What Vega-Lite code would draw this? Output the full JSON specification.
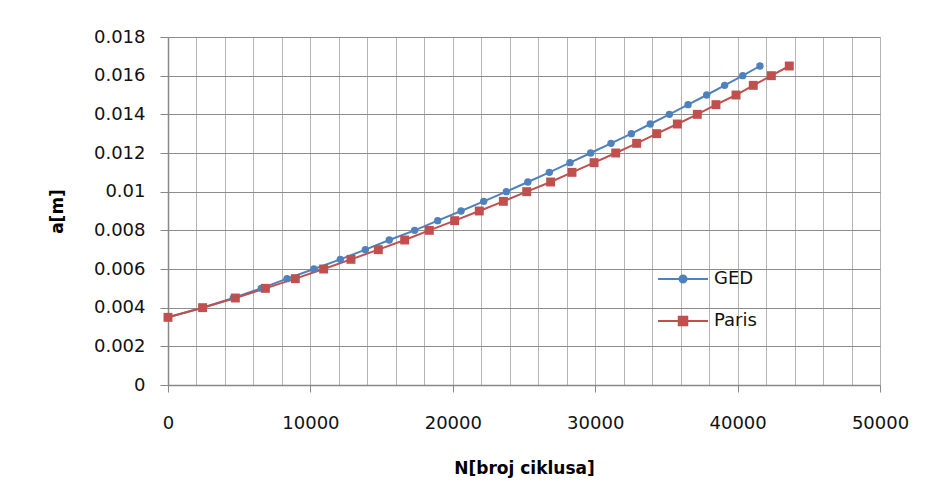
{
  "$schema": "https://vega.github.io/schema/vega-lite/v6.json",
  "width": 712,
  "height": 348,
  "autosize": {"type": "none"},
  "padding": {"left": 168, "top": 37, "right": 45, "bottom": 117},
  "background": "white",
  "config": {"view": {"stroke": null}, "font": "DejaVu Sans"},
  "data": {"values": [
    {"N": 0, "a": 0.0035, "series": "GED"},
    {"N": 2430, "a": 0.004, "series": "GED"},
    {"N": 4590, "a": 0.0045, "series": "GED"},
    {"N": 6550, "a": 0.005, "series": "GED"},
    {"N": 8360, "a": 0.0055, "series": "GED"},
    {"N": 10250, "a": 0.006, "series": "GED"},
    {"N": 12100, "a": 0.0065, "series": "GED"},
    {"N": 13860, "a": 0.007, "series": "GED"},
    {"N": 15540, "a": 0.0075, "series": "GED"},
    {"N": 17320, "a": 0.008, "series": "GED"},
    {"N": 18940, "a": 0.0085, "series": "GED"},
    {"N": 20580, "a": 0.009, "series": "GED"},
    {"N": 22170, "a": 0.0095, "series": "GED"},
    {"N": 23760, "a": 0.01, "series": "GED"},
    {"N": 25270, "a": 0.0105, "series": "GED"},
    {"N": 26780, "a": 0.011, "series": "GED"},
    {"N": 28230, "a": 0.0115, "series": "GED"},
    {"N": 29680, "a": 0.012, "series": "GED"},
    {"N": 31110, "a": 0.0125, "series": "GED"},
    {"N": 32540, "a": 0.013, "series": "GED"},
    {"N": 33870, "a": 0.0135, "series": "GED"},
    {"N": 35210, "a": 0.014, "series": "GED"},
    {"N": 36520, "a": 0.0145, "series": "GED"},
    {"N": 37830, "a": 0.015, "series": "GED"},
    {"N": 39090, "a": 0.0155, "series": "GED"},
    {"N": 40360, "a": 0.016, "series": "GED"},
    {"N": 41570, "a": 0.0165, "series": "GED"},
    {"N": 0, "a": 0.0035, "series": "Paris"},
    {"N": 2430, "a": 0.004, "series": "Paris"},
    {"N": 4730, "a": 0.0045, "series": "Paris"},
    {"N": 6840, "a": 0.005, "series": "Paris"},
    {"N": 8940, "a": 0.0055, "series": "Paris"},
    {"N": 10930, "a": 0.006, "series": "Paris"},
    {"N": 12850, "a": 0.0065, "series": "Paris"},
    {"N": 14770, "a": 0.007, "series": "Paris"},
    {"N": 16620, "a": 0.0075, "series": "Paris"},
    {"N": 18350, "a": 0.008, "series": "Paris"},
    {"N": 20130, "a": 0.0085, "series": "Paris"},
    {"N": 21860, "a": 0.009, "series": "Paris"},
    {"N": 23550, "a": 0.0095, "series": "Paris"},
    {"N": 25190, "a": 0.01, "series": "Paris"},
    {"N": 26870, "a": 0.0105, "series": "Paris"},
    {"N": 28370, "a": 0.011, "series": "Paris"},
    {"N": 29920, "a": 0.0115, "series": "Paris"},
    {"N": 31440, "a": 0.012, "series": "Paris"},
    {"N": 32910, "a": 0.0125, "series": "Paris"},
    {"N": 34320, "a": 0.013, "series": "Paris"},
    {"N": 35770, "a": 0.0135, "series": "Paris"},
    {"N": 37170, "a": 0.014, "series": "Paris"},
    {"N": 38480, "a": 0.0145, "series": "Paris"},
    {"N": 39890, "a": 0.015, "series": "Paris"},
    {"N": 41100, "a": 0.0155, "series": "Paris"},
    {"N": 42370, "a": 0.016, "series": "Paris"},
    {"N": 43630, "a": 0.0165, "series": "Paris"}
  ]},
  "encoding": {
    "x": {
      "field": "N", "type": "quantitative",
      "scale": {"domain": [0, 50000], "nice": false, "zero": false},
      "axis": {
        "title": "N[broj ciklusa]",
        "values": [0,2000,4000,6000,8000,10000,12000,14000,16000,18000,20000,22000,24000,26000,28000,30000,32000,34000,36000,38000,40000,42000,44000,46000,48000,50000],
        "format": "d",
        "labelExpr": "datum.value % 10000 === 0 ? datum.label : ''",
        "labelOverlap": false,
        "labelFlush": false,
        "labelFont": "DejaVu Sans", "labelFontSize": 18, "labelColor": "#111",
        "labelPadding": 22,
        "tickSize": 7, "tickColor": "#888",
        "tickOpacity": {"condition": {"test": "datum.value % 10000 === 0", "value": 1}, "value": 0},
        "grid": true, "gridColor": "#b4b4b4", "gridWidth": 1,
        "domainColor": "#888", "domainWidth": 1.5,
        "titleFont": "DejaVu Sans", "titleFontSize": 17, "titleFontWeight": "bold", "titleColor": "#000",
        "titlePadding": 28
      }
    },
    "y": {
      "field": "a", "type": "quantitative",
      "scale": {"domain": [0, 0.018], "nice": false},
      "axis": {
        "title": "a[m]",
        "values": [0,0.002,0.004,0.006,0.008,0.01,0.012,0.014,0.016,0.018],
        "format": "~g",
        "labelFont": "DejaVu Sans", "labelFontSize": 18, "labelColor": "#111",
        "labelPadding": 15,
        "tickSize": 8, "tickColor": "#888",
        "grid": true, "gridColor": "#8c8c8c", "gridWidth": 1,
        "domainColor": "#888", "domainWidth": 1.5,
        "titleFont": "DejaVu Sans", "titleFontSize": 17, "titleFontWeight": "bold", "titleColor": "#000",
        "titlePadding": 27
      }
    },
    "color": {
      "field": "series", "type": "nominal",
      "scale": {"domain": ["GED", "Paris"], "range": ["#4F81BD", "#C0504D"]},
      "legend": {
        "orient": "none", "legendX": 489, "legendY": 216, "title": null,
        "labelFont": "DejaVu Sans", "labelFontSize": 18, "labelColor": "#111",
        "labelOffset": 5, "symbolSize": 2500, "symbolStrokeWidth": 2,
        "symbolType": "M-1,0H1M-0.14,0A0.14,0.14 0 1,0 0.14,0A0.14,0.14 0 1,0 -0.14,0Z",
        "rowPadding": 7,
        "encode": {
          "symbols": {
            "update": {
              "shape": [{"test": "datum.value === 'GED'", "value": "M-1,0H1M-0.14,0A0.14,0.14 0 1,0 0.14,0A0.14,0.14 0 1,0 -0.14,0Z"}, {"value": "M-1,0H1M-0.17,-0.17H0.17V0.17H-0.17Z"}]
            }
          }
        }
      }
    }
  },
  "layer": [
    {"mark": {"type": "line", "strokeWidth": 2}},
    {
      "transform": [{"filter": "datum.series === 'GED'"}],
      "mark": {"type": "point", "filled": true, "opacity": 1, "shape": "circle", "size": 55}
    },
    {
      "transform": [{"filter": "datum.series === 'Paris'"}],
      "mark": {"type": "point", "filled": true, "opacity": 1, "shape": "square", "size": 80}
    }
  ]
}
